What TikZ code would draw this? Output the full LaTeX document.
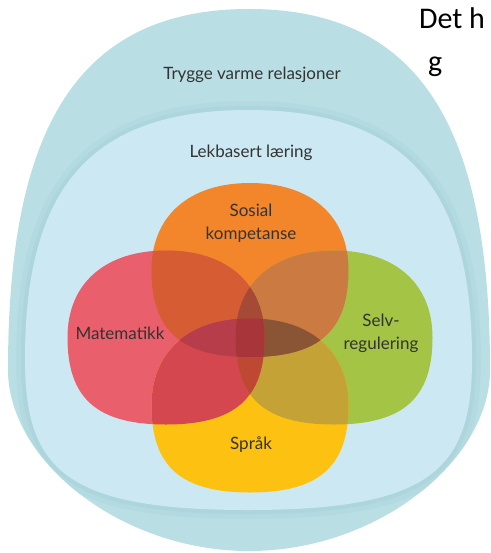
\documentclass[tikz,border=0pt]{standalone}
\usepackage{fontspec}
\setmainfont{Lato}
\newfontfamily\calibrifont{Carlito}
\definecolor{ringout}{HTML}{B9DFE5}
\definecolor{ringshade}{HTML}{A5D2D9}
\definecolor{ringin}{HTML}{CCE9F3}
\definecolor{cO}{HTML}{F3862A}
\definecolor{cR}{HTML}{EA5F6C}
\definecolor{cG}{HTML}{A4C446}
\definecolor{cY}{HTML}{FDC112}
\definecolor{cOR}{HTML}{D65C34}
\definecolor{cOG}{HTML}{CB7A42}
\definecolor{cRY}{HTML}{D5474F}
\definecolor{cGY}{HTML}{C4A236}
\definecolor{cOY}{HTML}{B8484A}
\definecolor{cRG}{HTML}{B8484A}
\definecolor{cORG}{HTML}{A64A38}
\definecolor{cORY}{HTML}{B83D4B}
\definecolor{cOGY}{HTML}{8A5535}
\definecolor{cRGY}{HTML}{BE4832}
\definecolor{cALL}{HTML}{A83539}
\definecolor{txt}{HTML}{333333}
% petal: top quadrants rounder (k=0.62), bottom quadrants squarer (k=0.70)
\newcommand\petal[2]{(#1+98.5,#2) .. controls (#1+98.5,#2+61) and (#1+69,#2+87) .. (#1,#2+87) .. controls (#1-69,#2+87) and (#1-98.5,#2+61) .. (#1-98.5,#2) .. controls (#1-98.5,#2-54) and (#1-61,#2-87) .. (#1,#2-87) .. controls (#1+61,#2-87) and (#1+98.5,#2-54) .. (#1+98.5,#2) -- cycle}
\newcommand\pO{\petal{250}{270}}
\newcommand\pR{\petal{166}{337.5}}
\newcommand\pG{\petal{334}{337.5}}
\newcommand\pY{\petal{250}{405.5}}
\newcommand\outerblob{(8,370) .. controls (8,140) and (70,9) .. (249,9) .. controls (428,9) and (490,140) .. (490,370) .. controls (490,460) and (378,551) .. (249,551) .. controls (120,551) and (8,460) .. (8,370) -- cycle}
\newcommand\innerblob{(25,360) .. controls (25,200) and (80,110) .. (248,110) .. controls (416,110) and (472,200) .. (472,360) .. controls (472,470) and (430,510) .. (248,510) .. controls (66,510) and (25,470) .. (25,360) -- cycle}
\tikzset{
  lbl/.style={text=txt, font=\fontsize{17}{23}\selectfont, align=center, inner sep=0pt},
  toptext/.style={text=black, font=\calibrifont\fontsize{30}{34}\selectfont, anchor=base west, inner sep=0pt}
}
\begin{document}
\begin{tikzpicture}[x=1pt,y=-1pt]
\useasboundingbox (0,0) rectangle (490,553);
\clip (0,0) rectangle (490,553);
\fill[white] (0,0) rectangle (490,553);
% rings
\fill[ringout] \outerblob;
\begin{scope}
  \clip \outerblob;
  \draw[ringshade, line width=18pt, opacity=0.35] \innerblob;
  \draw[ringshade, line width=8pt, opacity=0.45] \innerblob;
\end{scope}
\fill[ringin] \innerblob;
% petals
\fill[cO] \pO;
\fill[cR] \pR;
\fill[cG] \pG;
\fill[cY] \pY;
% pairs
\begin{scope}\clip \pO; \fill[cOR] \pR; \end{scope}
\begin{scope}\clip \pO; \fill[cOG] \pG; \end{scope}
\begin{scope}\clip \pR; \fill[cRY] \pY; \end{scope}
\begin{scope}\clip \pG; \fill[cGY] \pY; \end{scope}
\begin{scope}\clip \pO; \fill[cOY] \pY; \end{scope}
\begin{scope}\clip \pR; \fill[cRG] \pG; \end{scope}
% triples
\begin{scope}\clip \pO; \clip \pR; \fill[cORG] \pG; \end{scope}
\begin{scope}\clip \pO; \clip \pR; \fill[cORY] \pY; \end{scope}
\begin{scope}\clip \pO; \clip \pG; \fill[cOGY] \pY; \end{scope}
\begin{scope}\clip \pR; \clip \pG; \fill[cRGY] \pY; \end{scope}
% all four
\begin{scope}\clip \pO; \clip \pR; \clip \pG; \fill[cALL] \pY; \end{scope}
% labels
\node[lbl] (trygge) at (252,75) {Trygge varme relasjoner};
\node[lbl] (lek) at (251,153) {Lekbasert læring};
\node[lbl] (sosial) at (251,223) {Sosial\\kompetanse};
\node[lbl] (mat) at (120,333) {Matematikk};
\node[lbl] (selv) at (381,333) {Selv-\\regulering};
\node[lbl] (sprak) at (251,445) {Språk};
\node[toptext] (deth) at (419,29) {Det h};
\node[toptext] (gline) at (428,72) {g};
\end{tikzpicture}
\end{document}
